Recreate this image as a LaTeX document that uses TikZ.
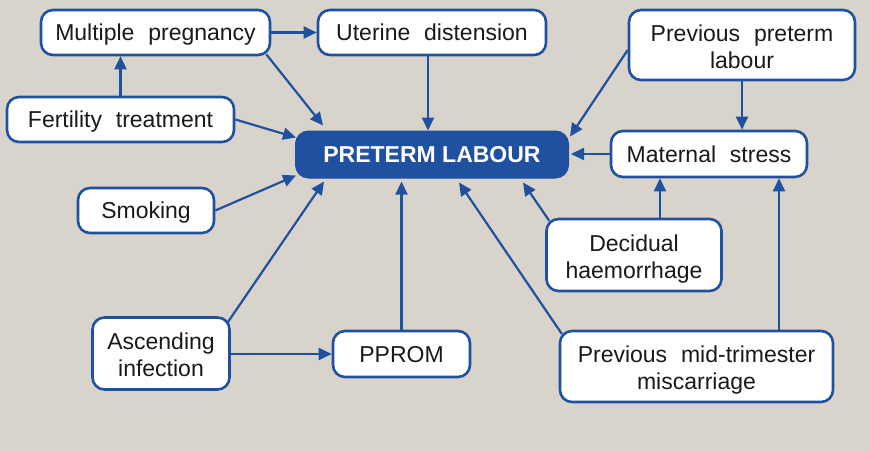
\documentclass[tikz,border=0pt]{standalone}
\usepackage{fontspec}
\setmainfont{Liberation Sans}
\usetikzlibrary{arrows.meta,calc}
\definecolor{bgc}{RGB}{217,212,203}
\definecolor{blu}{RGB}{32,80,160}
\newcommand\widesp{\spaceskip=0.6em plus 0.1em\relax}
\tikzset{
  box/.style={draw=blu, line width=2.6pt, fill=white, rounded corners=12pt,
    inner sep=0pt, align=center, text=black!90, text height=16.5pt, text depth=0pt,
    font=\fontsize{23}{27}\selectfont},
  twoline/.style={text height=46pt},
  mainbox/.style={draw=blu, line width=1pt, fill=blu, rounded corners=13pt,
    inner sep=0pt, align=center, text=white,
    font=\fontsize{23}{27}\selectfont\bfseries},
  arr/.style={draw=blu, line width=2.2pt, -{Triangle[length=13pt,width=12pt]}}
}
\begin{document}
\begin{tikzpicture}[x=1pt,y=-1pt]
\fill[bgc] (0,0) rectangle (870,452);
\useasboundingbox (0,0) rectangle (870,452);

\node[mainbox, minimum width=273pt, minimum height=47pt] (pl) at (432,154.5) {PRETERM LABOUR};
\node[box, minimum width=229pt, minimum height=45pt] (mult) at (155.5,32.5) {\widesp Multiple pregnancy};
\node[box, minimum width=228pt, minimum height=45pt] (ut) at (432,32.5) {\widesp Uterine distension};
\node[box, twoline, minimum width=226pt, minimum height=70pt] (ppl) at (742,45) {\widesp Previous preterm\\labour};
\node[box, minimum width=227pt, minimum height=45pt] (fert) at (120.5,119.5) {\widesp Fertility treatment};
\node[box, minimum width=196pt, minimum height=46pt] (ms) at (709,154) {\widesp Maternal stress};
\node[box, minimum width=136pt, minimum height=45pt] (smk) at (146,210.5) {Smoking};
\node[box, twoline, minimum width=175pt, minimum height=72pt] (dec) at (634,255) {Decidual\\haemorrhage};
\node[box, twoline, minimum width=137pt, minimum height=72pt] (asc) at (161,353.5) {Ascending\\infection};
\node[box, minimum width=137pt, minimum height=46pt] (pprom) at (401.5,354) {PPROM};
\node[box, twoline, minimum width=273pt, minimum height=71pt] (mis) at (696.5,366.5) {\widesp Previous mid-trimester\\miscarriage};

% straight connectors
\draw[arr] (mult.east) -- (ut.west);
\draw[arr] (fert.north) -- (fert.north |- mult.south);
\draw[arr] ([shift={(-4,0)}]ut.south) -- ([shift={(-4,0)}]ut.south |- pl.north);
\draw[arr] (ppl.south) -- (ppl.south |- ms.north);
\draw[arr, shorten >=2pt] (ms.west) -- (ms.west -| pl.east);
\draw[arr] ([shift={(26,0)}]dec.north) -- ([shift={(26,0)}]dec.north |- ms.south);
\draw[arr] ([shift={(82.5,0)}]mis.north) -- ([shift={(82.5,0)}]mis.north |- ms.south);
\draw[arr, shorten >=3pt] (pprom.north) -- (pprom.north |- pl.south);
\draw[arr] (asc.east |- pprom.west) -- (pprom.west);

% diagonal connectors
\draw[arr] ([shift={(-5,-2)}]mult.south east) -- ([shift={(28,-5)}]pl.north west);
\draw[arr] (fert.east) -- ([shift={(1,7)}]pl.north west);
\draw[arr] (smk.east) -- ([shift={(1,-3)}]pl.south west);
\draw[arr] ([shift={(-3,6)}]asc.north east) -- ([shift={(29,3)}]pl.south west);
\draw[arr] ([shift={(0,5)}]ppl.west) -- ([shift={(1,6)}]pl.north east);
\draw[arr] ([shift={(3,4)}]mis.north west) -- ([shift={(27,4)}]pl.south);
\draw[arr] ([shift={(4,3)}]dec.north west) -- ([shift={(91,4)}]pl.south);
\end{tikzpicture}
\end{document}
